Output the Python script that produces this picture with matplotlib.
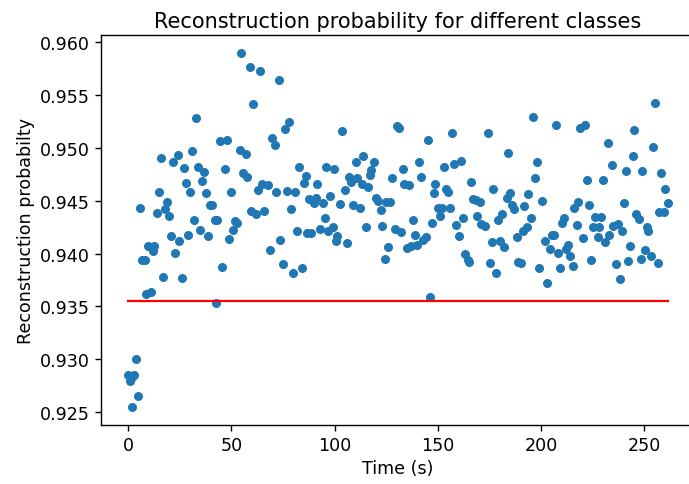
import numpy as np
import matplotlib
matplotlib.use('Agg')
import matplotlib.pyplot as plt

# زمان‌ها (ثانیه) و احتمال بازسازی خوانده‌شده از نمودار
time_s = [0.0, 0.8, 1.6, 1.9, 2.9, 3.7, 4.8, 5.6, 6.9, 8.0, 8.6, 9.7, 10.8, 11.3, 11.8, 12.4,
          13.7, 14.7, 15.7, 16.6, 17.9, 18.9, 19.8, 20.8, 21.8, 22.6, 23.9, 24.7, 25.8, 26.9,
          27.9, 28.8, 29.9, 30.8, 31.9, 32.7, 33.7, 34.7, 35.5, 36.9, 37.9, 38.7, 39.5, 40.8,
          41.9, 42.3, 42.9, 44.4, 45.2, 46.8, 47.9, 48.8, 49.6, 50.8, 51.6, 52.7, 54.0, 54.8,
          55.6, 56.9, 57.7, 58.9, 59.7, 60.4, 61.8, 62.8, 63.6, 65.0, 65.8, 67.7, 68.7, 69.7,
          71.0, 71.7, 72.9, 73.7, 74.9, 76.1, 76.9, 77.8, 78.7, 79.9, 81.0, 81.8, 82.7, 84.0,
          85.0, 86.0, 86.6, 87.6, 88.7, 89.8, 90.8, 91.6, 92.7, 94.1, 95.2, 95.7, 96.8, 97.9,
          99.2, 99.8, 100.8, 101.1, 102.7, 103.7, 104.9, 105.9, 107.0, 108.0, 108.9, 110.2,
          111.0, 112.1, 113.4, 113.7, 115.0, 116.1, 117.0, 117.8, 119.0, 119.8, 121.0, 122.2,
          122.9, 124.3, 125.0, 125.8, 126.6, 127.9, 129.0, 130.0, 131.2, 132.0, 133.0, 133.8,
          135.0, 136.0, 136.9, 137.9, 139.1, 140.1, 140.8, 141.9, 143.0, 144.0, 145.0, 146.0,
          146.9, 147.9, 148.8, 149.9, 150.8, 152.1, 153.1, 154.0, 155.0, 155.9, 156.9, 158.0,
          158.8, 160.2, 161.1, 162.1, 162.9, 164.5, 165.0, 166.0, 166.9, 168.6, 169.1, 170.2,
          171.0, 172.6, 174.2, 175.0, 176.0, 176.9, 178.2, 179.3, 180.1, 181.0, 181.8, 183.4,
          184.0, 185.0, 186.0, 187.0, 188.1, 188.7, 190.3, 191.1, 191.9, 193.0, 193.8, 195.1,
          196.0, 196.9, 197.9, 199.2, 200.4, 202.1, 202.8, 204.4, 205.3, 206.4, 207.3, 208.0,
          209.3, 210.2, 211.0, 212.1, 212.9, 214.0, 215.4, 216.1, 217.2, 218.1, 219.0, 220.1,
          221.3, 222.2, 223.3, 224.1, 225.0, 226.3, 227.4, 228.2, 229.0, 230.1, 231.0, 232.2,
          233.0, 234.2, 235.0, 236.2, 237.2, 238.1, 239.0, 240.3, 241.1, 242.0, 243.2, 244.3,
          245.2, 245.9, 247.3, 248.2, 249.1, 250.3, 251.1, 252.0, 253.4, 254.3, 255.3, 256.5,
          257.2, 258.2, 259.3, 260.1, 261.3]

recon_prob = [0.9285, 0.9280, 0.9255, 0.9283, 0.9285, 0.9300, 0.9265, 0.9443, 0.9394, 0.9394,
              0.9362, 0.9407, 0.9364, 0.9406, 0.9402, 0.9407, 0.9438, 0.9458, 0.9490, 0.9378,
              0.9442, 0.9449, 0.9436, 0.9417, 0.9487, 0.9401, 0.9493, 0.9412, 0.9377, 0.9481,
              0.9467, 0.9418, 0.9458, 0.9497, 0.9432, 0.9528, 0.9482, 0.9422, 0.9469, 0.9477,
              0.9457, 0.9417, 0.9446, 0.9446, 0.9432, 0.9353, 0.9432, 0.9506, 0.9387, 0.9480,
              0.9507, 0.9414, 0.9458, 0.9422, 0.9431, 0.9429, 0.9498, 0.9590, 0.9476, 0.9494,
              0.9472, 0.9576, 0.9440, 0.9541, 0.9437, 0.9460, 0.9573, 0.9466, 0.9440, 0.9465,
              0.9403, 0.9509, 0.9503, 0.9458, 0.9564, 0.9413, 0.9390, 0.9518, 0.9459, 0.9524,
              0.9442, 0.9382, 0.9458, 0.9421, 0.9482, 0.9386, 0.9467, 0.9473, 0.9419, 0.9452,
              0.9419, 0.9448, 0.9453, 0.9466, 0.9423, 0.9448, 0.9434, 0.9482, 0.9421, 0.9454,
              0.9425, 0.9480, 0.9412, 0.9417, 0.9447, 0.9516, 0.9460, 0.9410, 0.9472, 0.9468,
              0.9446, 0.9487, 0.9471, 0.9443, 0.9466, 0.9492, 0.9425, 0.9463, 0.9474, 0.9479,
              0.9487, 0.9453, 0.9450, 0.9441, 0.9426, 0.9395, 0.9449, 0.9406, 0.9449, 0.9471,
              0.9423, 0.9521, 0.9519, 0.9420, 0.9480, 0.9466, 0.9405, 0.9465, 0.9407, 0.9432,
              0.9418, 0.9408, 0.9487, 0.9472, 0.9413, 0.9416, 0.9507, 0.9359, 0.9429, 0.9457,
              0.9466, 0.9443, 0.9436, 0.9443, 0.9482, 0.9461, 0.9458, 0.9443, 0.9514, 0.9485,
              0.9427, 0.9417, 0.9488, 0.9434, 0.9400, 0.9394, 0.9392, 0.9468, 0.9452, 0.9451,
              0.9436, 0.9449, 0.9428, 0.9426, 0.9514, 0.9391, 0.9411, 0.9461, 0.9382, 0.9432,
              0.9412, 0.9437, 0.9406, 0.9453, 0.9495, 0.9457, 0.9446, 0.9442, 0.9416, 0.9392,
              0.9391, 0.9421, 0.9445, 0.9425, 0.9456, 0.9434, 0.9529, 0.9471, 0.9487, 0.9386,
              0.9450, 0.9412, 0.9372, 0.9404, 0.9418, 0.9418, 0.9522, 0.9401, 0.9386, 0.9429,
              0.9434, 0.9404, 0.9408, 0.9398, 0.9388, 0.9443, 0.9427, 0.9449, 0.9519, 0.9415,
              0.9522, 0.9470, 0.9446, 0.9394, 0.9425, 0.9435, 0.9416, 0.9425, 0.9435, 0.9470,
              0.9411, 0.9505, 0.9418, 0.9484, 0.9426, 0.9390, 0.9428, 0.9376, 0.9421, 0.9448,
              0.9478, 0.9393, 0.9407, 0.9492, 0.9517, 0.9437, 0.9433, 0.9395, 0.9478, 0.9403,
              0.9425, 0.9421, 0.9398, 0.9501, 0.9542, 0.9391, 0.9439, 0.9476, 0.9439, 0.9461,
              0.9448]

# آستانه (خط قرمز)
threshold = 0.93553

fig = plt.figure(figsize=(6.89, 4.85), dpi=100)
ax = fig.add_axes([0.147, 0.1223, 0.8612, 0.8037])

ax.scatter(time_s, recon_prob, s=30, color='#1f77b4', zorder=2)
ax.plot([time_s[0], time_s[-1]], [threshold, threshold], color='red', linewidth=1.6, zorder=3)

ax.set_title('Reconstruction probability for different classes', fontsize=15)
ax.set_xlabel('Time (s)', fontsize=12.6)
ax.set_ylabel('Reconstruction probabilty', fontsize=12.6)
ax.set_xticks([0, 50, 100, 150, 200, 250])
ax.set_yticks([0.925, 0.930, 0.935, 0.940, 0.945, 0.950, 0.955, 0.960])
ax.tick_params(labelsize=12.6, length=4.4, width=1.0)
for sp in ax.spines.values():
    sp.set_linewidth(1.0)
# در تصویر اصلی لبه راست بریده شده است
ax.spines['right'].set_visible(False)

plt.savefig('out.png', dpi=100)
